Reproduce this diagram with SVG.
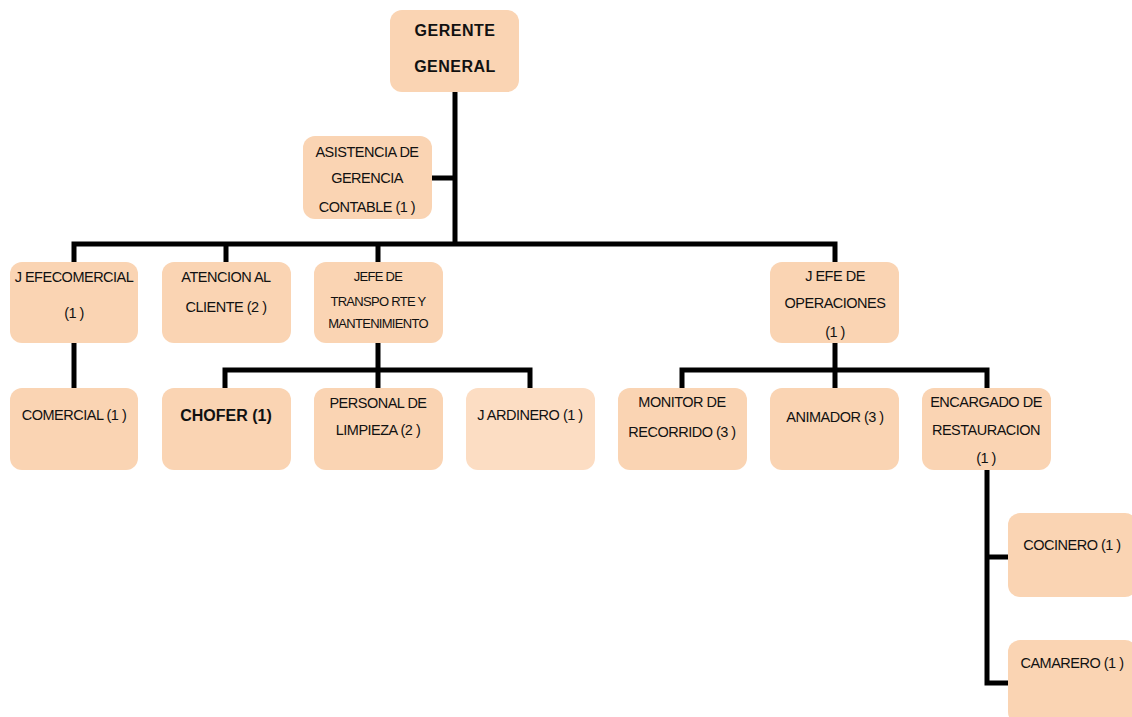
<svg xmlns="http://www.w3.org/2000/svg" width="1132" height="717" viewBox="0 0 1132 717">
<style>
.box{fill:#FAD4B3}
.light{fill:#FCDDC3}
text{font-family:"Liberation Sans",Arial,sans-serif;font-size:14.5px;fill:#111;text-anchor:middle;letter-spacing:-0.5px}
.b{font-weight:bold;font-size:16px;letter-spacing:0.5px}
.s{font-size:13px;letter-spacing:-0.7px}
.c{fill:none;stroke:#000;stroke-width:5}
</style>
<rect width="1132" height="717" fill="#fff"/>
<g id="connectors">
<path class="c" d="M455 92V244M432 178H455"/>
<path class="c" d="M74 262V244H835V262M226 244V262M378 244V262"/>
<path class="c" d="M74 343V388"/>
<path class="c" d="M378 343V370M225 388V370H530V388M378 370V388"/>
<path class="c" d="M835 343V370M682 388V370H987V388M835 370V388"/>
<path class="c" d="M987 470V683H1010M987 557H1010"/>
</g>
<g id="gerente"><rect class="box" x="390" y="10" width="129" height="82" rx="12"/><text class="b" x="455" y="36">GERENTE</text><text class="b" x="455" y="72">GENERAL</text></g>
<g id="asistencia"><rect class="box" x="303" y="136" width="129" height="83" rx="12"/><text x="367" y="157">ASISTENCIA DE</text><text x="367" y="183">GERENCIA</text><text x="367" y="212">CONTABLE (1 )</text></g>
<g id="jefecomercial"><rect class="box" x="10" y="262" width="128" height="81" rx="12"/><text x="74" y="282">J EFECOMERCIAL</text><text x="74" y="318">(1 )</text></g>
<g id="atencion"><rect class="box" x="162" y="262" width="129" height="81" rx="12"/><text x="226" y="282">ATENCION AL</text><text x="226" y="312">CLIENTE (2 )</text></g>
<g id="jefetransporte"><rect class="box" x="314" y="262" width="129" height="81" rx="12"/><text class="s" x="378" y="281">JEFE DE</text><text class="s" x="378" y="306">TRANSPO RTE Y</text><text class="s" x="378" y="328">MANTENIMIENTO</text></g>
<g id="jefeoperaciones"><rect class="box" x="770" y="262" width="129" height="81" rx="12"/><text x="835" y="281">J EFE  DE</text><text x="835" y="308">OPERACIONES</text><text x="835" y="337">(1 )</text></g>
<g id="comercial"><rect class="box" x="10" y="388" width="128" height="82" rx="12"/><text x="74" y="420">COMERCIAL (1 )</text></g>
<g id="chofer"><rect class="box" x="162" y="388" width="129" height="82" rx="12"/><text class="b" x="226" y="421" style="letter-spacing:0">CHOFER (1)</text></g>
<g id="personal"><rect class="box" x="314" y="388" width="129" height="82" rx="12"/><text x="378" y="408">PERSONAL DE</text><text x="378" y="435">LIMPIEZA (2 )</text></g>
<g id="jardinero"><rect class="light" x="466" y="388" width="129" height="82" rx="12"/><text x="530" y="420">J ARDINERO (1 )</text></g>
<g id="monitor"><rect class="box" x="618" y="388" width="129" height="82" rx="12"/><text x="682" y="407">MONITOR DE</text><text x="682" y="437">RECORRIDO  (3 )</text></g>
<g id="animador"><rect class="box" x="770" y="388" width="129" height="82" rx="12"/><text x="835" y="422">ANIMADOR (3 )</text></g>
<g id="encargado"><rect class="box" x="922" y="388" width="129" height="82" rx="12"/><text x="986" y="407">ENCARGADO DE</text><text x="986" y="435">RESTAURACION</text><text x="986" y="463">(1 )</text></g>
<g id="cocinero"><rect class="box" x="1008" y="513" width="129" height="84" rx="12"/><text x="1072" y="550">COCINERO (1 )</text></g>
<g id="camarero"><rect class="box" x="1008" y="640" width="129" height="84" rx="12"/><text x="1072" y="668">CAMARERO (1 )</text></g>
</svg>
